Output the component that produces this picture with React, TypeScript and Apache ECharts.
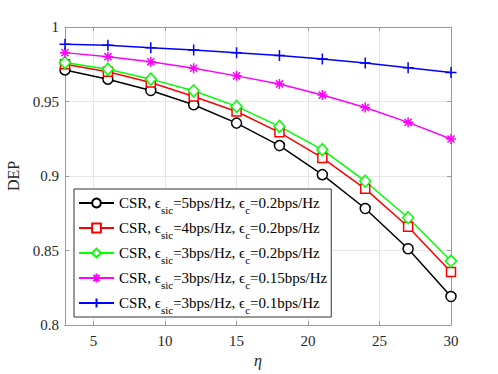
import React, { useEffect, useRef } from "react";
import * as echarts from "echarts";

const etaValues = [3, 6, 9, 12, 15, 18, 21, 24, 27, 30];
const seriesBlack = [0.9712, 0.965, 0.9574, 0.9478, 0.9355, 0.9204, 0.9009, 0.8782, 0.8512, 0.8191];
const seriesRed = [0.975, 0.970, 0.9627, 0.9534, 0.9433, 0.9293, 0.9121, 0.8914, 0.8659, 0.8355];
const seriesGreen = [0.9761, 0.9717, 0.965, 0.9572, 0.9467, 0.9333, 0.9177, 0.8965, 0.872, 0.8429];
const seriesMagenta = [0.9828, 0.9801, 0.9766, 0.9723, 0.9672, 0.9618, 0.9543, 0.946, 0.936, 0.9248];
const seriesBlue = [0.9884, 0.9877, 0.9861, 0.9846, 0.9828, 0.9808, 0.9786, 0.9759, 0.9726, 0.9694];

const sicValues = ["5", "4", "3", "3", "3"];
const cValues = ["0.2", "0.2", "0.2", "0.15", "0.1"];
const colors = ["#000000", "#ff0000", "#00ff00", "#ff00ff", "#0000ff"];
const allData = [seriesBlack, seriesRed, seriesGreen, seriesMagenta, seriesBlue];

const FONT = "'Liberation Serif', 'Times New Roman', serif";

const symbols: any[] = [
  "circle",
  "rect",
  "diamond",
  "path://M0,-10L0,10M-10,0L10,0M-7.07,-7.07L7.07,7.07M-7.07,7.07L7.07,-7.07",
  "path://M0,-10L0,10M-10,0L10,0",
];
const symbolSizes: any[] = [10, 9, [11, 12], 10, 11];

const names = sicValues.map((s, i) => `CSR, ϵsic=${s}bps/Hz, ϵc=${cValues[i]}bps/Hz`);

export default function App() {
  const ref = useRef<HTMLDivElement>(null);
  useEffect(() => {
    if (!ref.current) return;
    const chart = echarts.init(ref.current, undefined, { renderer: "svg" });
    const axisLineStyle = { color: "#999999", width: 1 };
    const labelStyle = { fontFamily: FONT, fontSize: 15, color: "#262626" };
    chart.setOption({
      animation: false,
      backgroundColor: "#ffffff",
      grid: { left: 65, right: 47, top: 27, bottom: 49, containLabel: false, outerBoundsMode: "none" },
      xAxis: [
        {
          type: "value",
          min: 3,
          max: 30,
          splitNumber: 6,
          position: "bottom",
          name: "η",
          nameLocation: "middle",
          nameGap: 26,
          nameTextStyle: { fontFamily: FONT, fontSize: 16, fontStyle: "italic", color: "#262626" },
          axisLine: { show: true, lineStyle: axisLineStyle },
          axisTick: { show: true, inside: true, length: 4, lineStyle: axisLineStyle },
          axisLabel: { ...labelStyle, margin: 8, showMinLabel: false },
          splitLine: { show: true, lineStyle: { color: "#e6e6e6", width: 1 } },
        },
        {
          type: "value",
          min: 3,
          max: 30,
          splitNumber: 6,
          position: "top",
          axisLine: { show: true, lineStyle: axisLineStyle },
          axisTick: { show: true, inside: true, length: 4, lineStyle: axisLineStyle },
          axisLabel: { show: false },
          splitLine: { show: false },
        },
      ],
      yAxis: [
        {
          type: "value",
          min: 0.8,
          max: 1,
          interval: 0.05,
          position: "left",
          name: "DEP",
          nameLocation: "middle",
          nameGap: 43,
          nameTextStyle: { fontFamily: FONT, fontSize: 16, color: "#262626" },
          axisLine: { show: true, lineStyle: axisLineStyle },
          axisTick: { show: true, inside: true, length: 4, lineStyle: axisLineStyle },
          axisLabel: { ...labelStyle, margin: 6 },
          splitLine: { show: true, lineStyle: { color: "#e6e6e6", width: 1 } },
        },
        {
          type: "value",
          min: 0.8,
          max: 1,
          interval: 0.05,
          position: "right",
          axisLine: { show: true, lineStyle: axisLineStyle },
          axisTick: { show: true, inside: true, length: 4, lineStyle: axisLineStyle },
          axisLabel: { show: false },
          splitLine: { show: false },
        },
      ],
      legend: {
        show: true,
        orient: "vertical",
        left: 74,
        top: 189,
        padding: [2, 4, 2, 4],
        itemGap: 1,
        itemWidth: 35,
        itemHeight: 11,
        backgroundColor: "#ffffff",
        borderColor: "#333333",
        borderWidth: 1,
        borderRadius: 0,
        data: names,
        formatter: (name: string) => {
          const i = names.indexOf(name);
          return `{n|CSR, ϵ}{s|sic}{n|=${sicValues[i]}bps/Hz, ϵ}{s|c}{n|=${cValues[i]}bps/Hz}`;
        },
        textStyle: {
          fontFamily: FONT,
          fontSize: 15,
          color: "#000000",
          rich: {
            n: { fontFamily: FONT, fontSize: 15, lineHeight: 15, color: "#000000" },
            s: { fontFamily: FONT, fontSize: 11, lineHeight: 11, padding: [13, 0, 0, 0], color: "#000000" },
          },
        },
      },
      series: names.map((name, i) => ({
        name,
        type: "line",
        xAxisIndex: 0,
        yAxisIndex: 0,
        data: etaValues.map((x, j) => [x, allData[i][j]]),
        symbol: symbols[i],
        symbolSize: symbolSizes[i],
        showAllSymbol: true,
        clip: false,
        lineStyle: { color: colors[i], width: 1.5 },
        itemStyle: { color: "#ffffff", borderColor: colors[i], borderWidth: 1.5 },
        emphasis: { disabled: true },
      })),
    });
    return () => chart.dispose();
  }, []);
  return (
    <div
      ref={ref}
      style={{ position: "fixed", left: 0, top: 0, width: 498, height: 374 }}
    />
  );
}
